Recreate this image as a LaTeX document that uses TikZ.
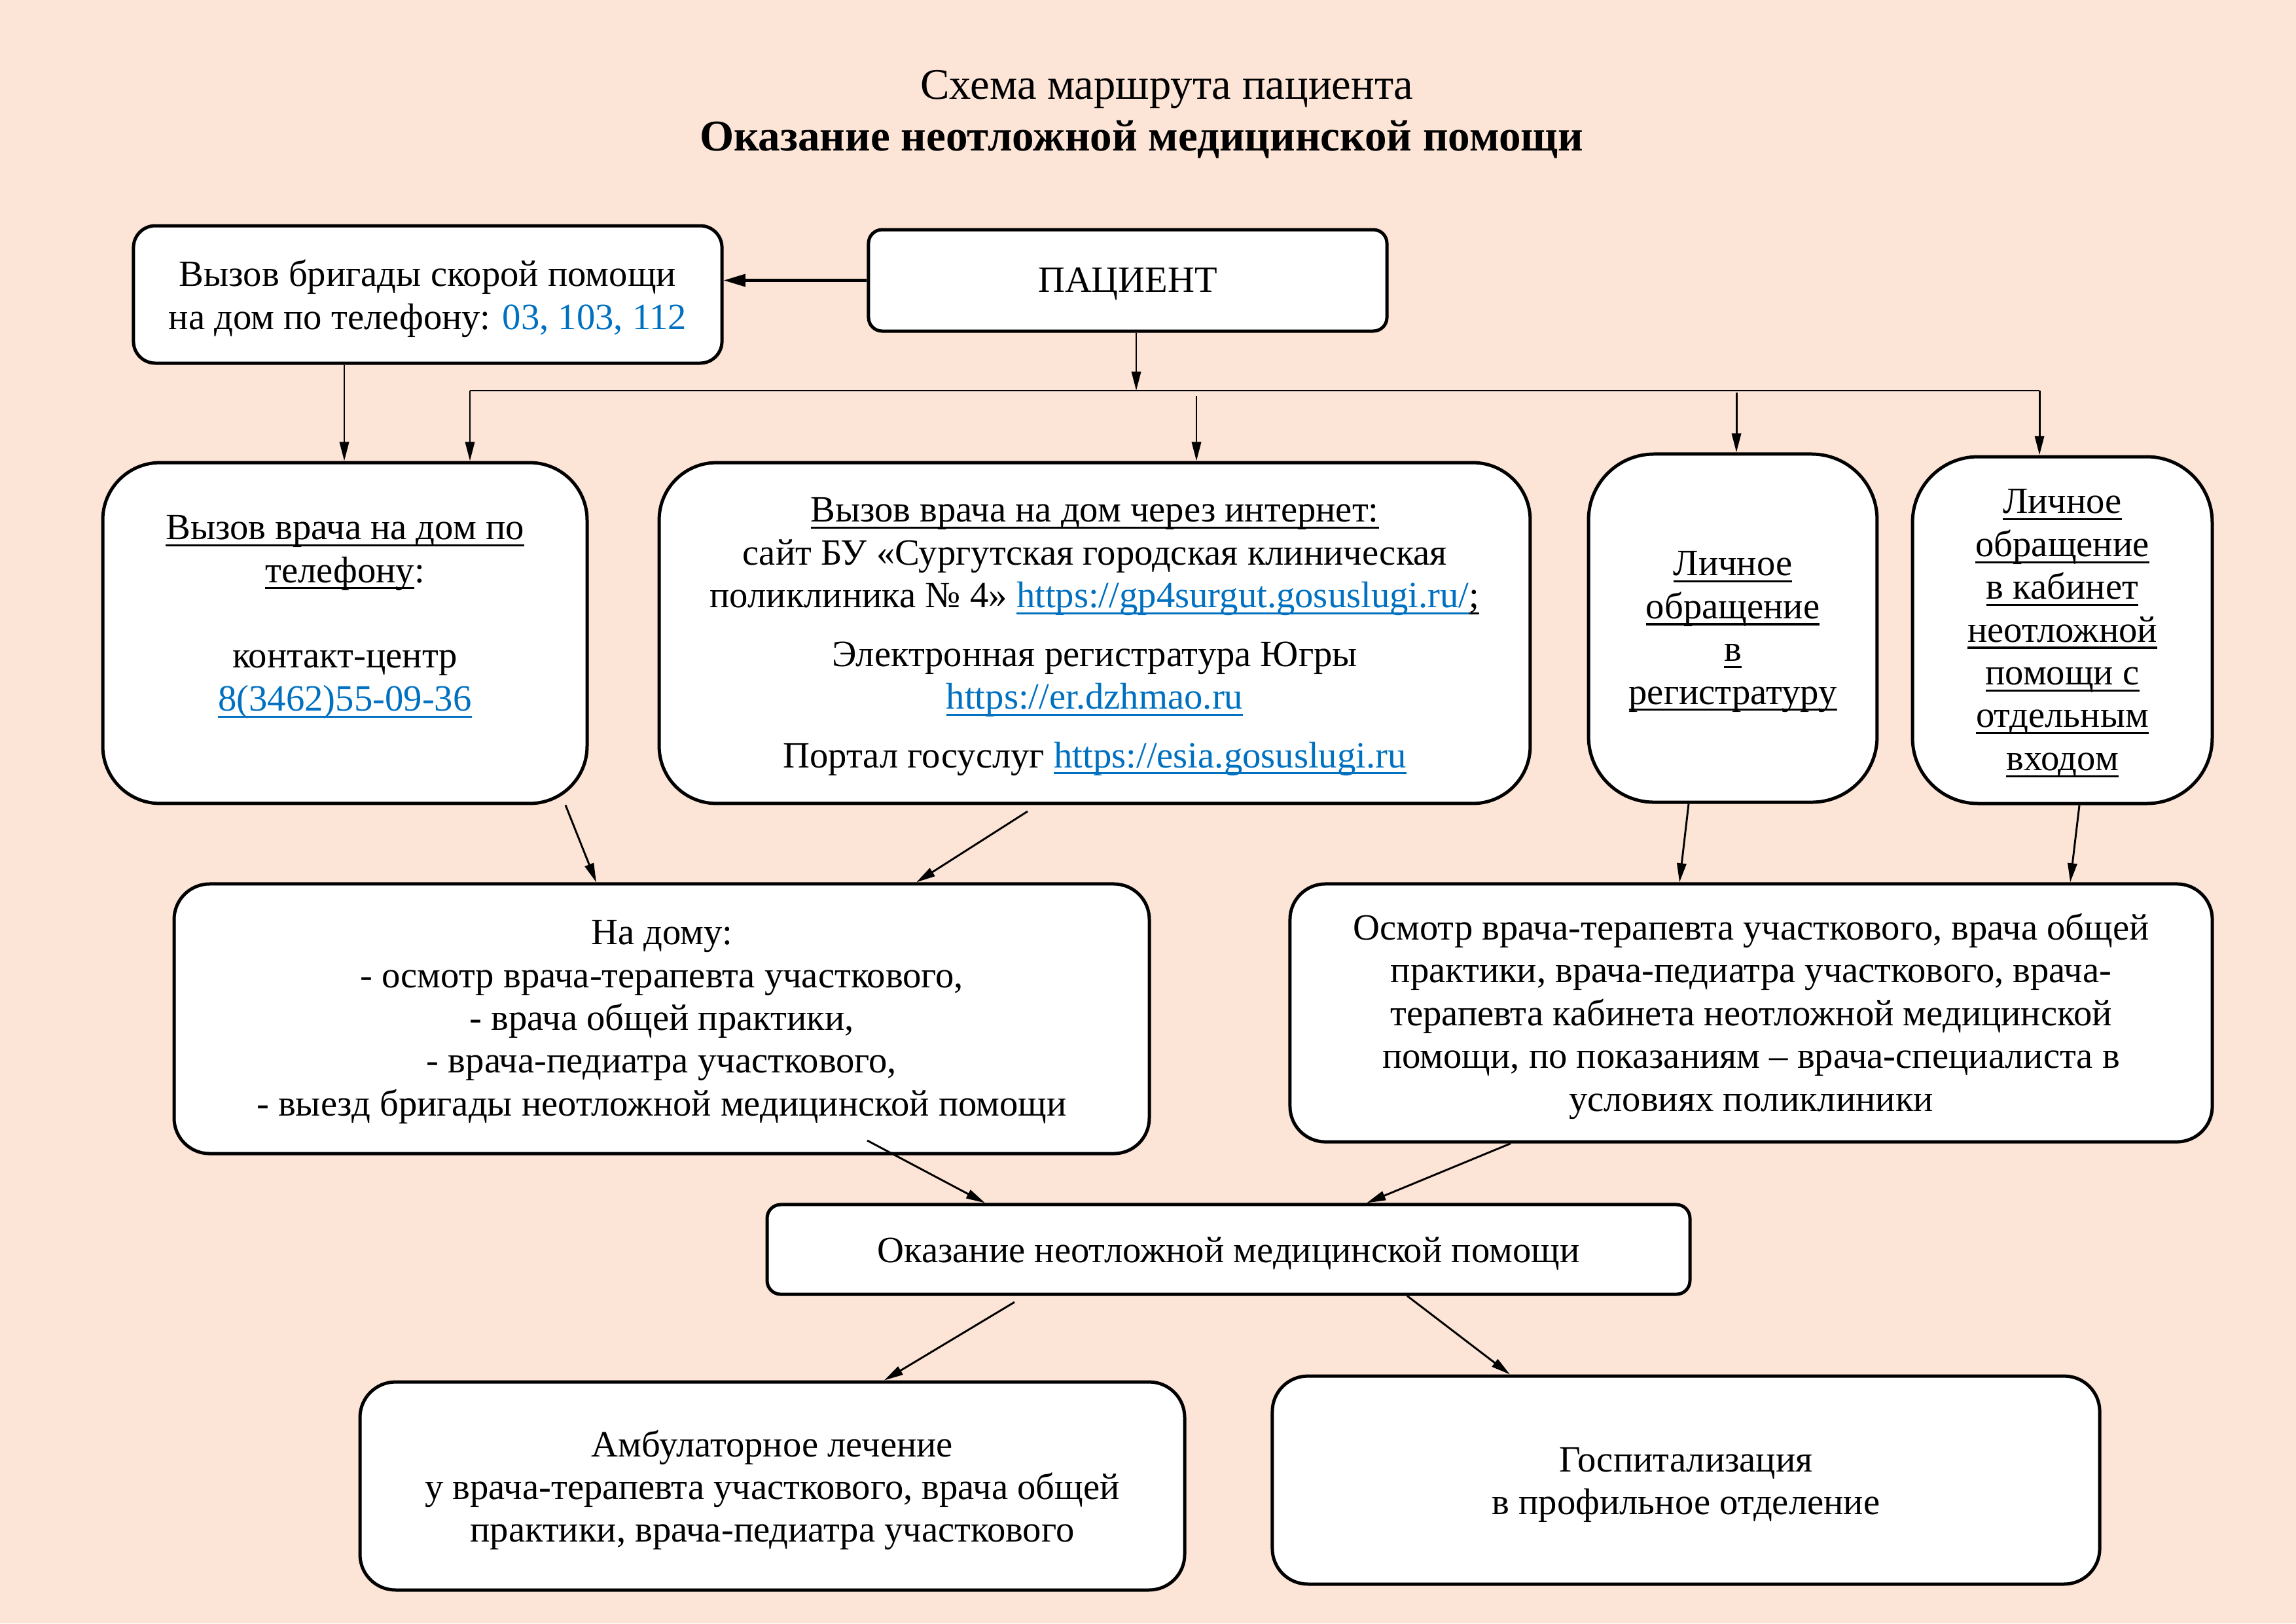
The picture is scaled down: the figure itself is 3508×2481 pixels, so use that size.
\documentclass[tikz,border=0pt]{standalone}
\usepackage{fontspec}
\setmainfont{Liberation Serif}
\usetikzlibrary{arrows.meta,calc}
\definecolor{bgpeach}{HTML}{FCE4D6}
\definecolor{linkblue}{HTML}{0070C0}
\newcommand{\myul}[1]{\setbox0\hbox{#1}\rlap{\rule[-2.5pt]{\wd0}{0.75pt}}\box0}
\begin{document}
\begin{tikzpicture}[x=0.24pt,y=-0.24pt,
  box/.style={draw, line width=1.2pt, fill=white, inner sep=0pt},
  txt/.style={align=center, inner sep=0pt, font=\fontsize{13.6}{15.7}\selectfont},
  conn/.style={line width=0.7pt},
  arr/.style={line width=0.7pt, -{Triangle[length=7pt,width=3.4pt]}},
  ttl/.style={font=\fontsize{16}{19}\selectfont}]
\useasboundingbox (0,0) rectangle (3508,2481);
\fill[bgpeach] (0,0) rectangle (3508,2481);

% title
\node[ttl] (t1) at (1783,137) {Схема маршрута пациента};
\node[ttl, font=\fontsize{16.1}{19}\selectfont\bfseries] (t2) at (1744,213) {Оказание неотложной медицинской помощи};

% boxes
\node[box, rounded corners=8pt, minimum width=215.8pt, minimum height=50.4pt] (b1) at (653.5,450) {};
\node[txt] (b1t) at ([yshift=-1.5pt]b1.center)
  {Вызов бригады скорой помощи\\ на дом по телефону: {\color{linkblue}03, 103, 112}};
\node[box, rounded corners=5pt, minimum width=190.1pt, minimum height=37.2pt] (b2) at (1723,428.5) {};
\node[txt] (b2t) at ([yshift=-1.2pt]b2.center) {ПАЦИЕНТ};
\node[box, rounded corners=21pt, minimum width=177.6pt, minimum height=125pt] (b3) at (527,967.5) {};
\node[txt] (b3t) at ([yshift=-0.5pt]b3.center)
  {\myul{Вызов врача на дом по}\\ \myul{телефону}:\\ \mbox{}\\ контакт-центр\\ {\color{linkblue}\myul{8(3462)55-09-36}}\\ \mbox{}};
\node[box, rounded corners=21pt, minimum width=319.4pt, minimum height=125pt] (b4) at (1672.5,967.5) {};
\node[txt] (b4t) at ([yshift=-1.3pt]b4.center)
  {\myul{Вызов врача на дом через интернет:}\\ сайт БУ «Сургутская городская клиническая\\ поликлиника № 4» {\color{linkblue}\myul{https://gp4surgut.gosuslugi.ru/}}\myul{;}\\[5.8pt] Электронная регистратура Югры\\ {\color{linkblue}\myul{https://er.dzhmao.ru}}\\[5.8pt] Портал госуслуг {\color{linkblue}\myul{https://esia.gosuslugi.ru}}};
\node[box, rounded corners=24pt, minimum width=105.8pt, minimum height=127.7pt] (b5) at (2647.5,960) {};
\node[txt] (b5t) at ([yshift=-1.3pt]b5.center)
  {\myul{Личное}\\ \myul{обращение}\\ \myul{в}\\ \myul{регистратуру}};
\node[box, rounded corners=24pt, minimum width=109.9pt, minimum height=127.2pt] (b6) at (3151,963) {};
\node[txt] (b6t) at ([yshift=-1.2pt]b6.center)
  {\myul{Личное}\\ \myul{обращение}\\ \myul{в кабинет}\\ \myul{неотложной}\\ \myul{помощи с}\\ \myul{отдельным}\\ \myul{входом}};
\node[box, rounded corners=13pt, minimum width=357.6pt, minimum height=98.9pt] (b7) at (1011,1557) {};
\node[txt] (b7t) at ([yshift=-1.2pt]b7.center)
  {На дому:\\ - осмотр врача-терапевта участкового,\\ - врача общей практики,\\ - врача-педиатра участкового,\\ - выезд бригады неотложной медицинской помощи};
\node[box, rounded corners=13pt, minimum width=338.2pt, minimum height=94.6pt] (b8) at (2675.5,1548) {};
\node[txt] (b8t) at ([yshift=-1.2pt]b8.center)
  {Осмотр врача-терапевта участкового, врача общей\\ практики, врача-педиатра участкового, врача-\\ терапевта кабинета неотложной медицинской\\ помощи, по показаниям – врача-специалиста в\\ условиях поликлиники};
\node[box, rounded corners=5pt, minimum width=338.4pt, minimum height=32.9pt] (b9) at (1877,1909.5) {};
\node[txt] (b9t) at ([yshift=-1.5pt]b9.center) {Оказание неотложной медицинской помощи};
\node[box, rounded corners=13pt, minimum width=302.4pt, minimum height=76.3pt] (b10) at (1180,2271) {};
\node[txt] (b10t) at ([yshift=-1.5pt]b10.center)
  {Амбулаторное лечение\\ у врача-терапевта участкового, врача общей\\ практики, врача-педиатра участкового};
\node[box, rounded corners=13pt, minimum width=303.4pt, minimum height=76.3pt] (b11) at (2576,2262) {};
\node[txt] (b11t) at ([yshift=-1.8pt]b11.center)
  {Госпитализация\\ в профильное отделение};

% connectors from patient
\draw[line width=1pt, -{Triangle[length=8pt,width=4.5pt]}] (b2.west) -- (b2.west -| b1.east);
\coordinate (bus) at (1736,597);
\coordinate (busL) at (718,597);
\coordinate (busR) at (3116,597);
\draw[arr] (b2.south -| bus) -- (bus);
\draw[conn] (busL) -- (busR);
\draw[arr] (busL) -- (busL |- b3.north);
\coordinate (d2) at (1828,605);
\draw[arr] (d2) -- (d2 |- b4.north);
\coordinate (d3) at (2653,600);
\draw[arr] (d3) -- (d3 |- b5.north);
\draw[arr] (busR) -- (busR |- b6.north);
\coordinate (a1) at (526,0);
\draw[arr] (a1 |- b1.south) -- (a1 |- b3.north);

% to second row
\coordinate (s1) at (864,0);   \coordinate (e1) at (911,0);
\draw[arr] (s1 |- b3.south) -- (e1 |- b7.north);
\coordinate (s2) at (1570,1240); \coordinate (e2) at (1400,0);
\draw[arr] (s2) -- (e2 |- b7.north);
\coordinate (s3) at (2580,0);  \coordinate (e3) at (2566,0);
\draw[arr] (s3 |- b5.south) -- (e3 |- b8.north);
\coordinate (s4) at (3177,0);  \coordinate (e4) at (3163,0);
\draw[arr] (s4 |- b6.south) -- (e4 |- b8.north);

% to b9
\coordinate (s5) at (1325,1743); \coordinate (e5) at (1505,0);
\draw[arr] (s5) -- (e5 |- b9.north);
\coordinate (s6) at (2308,0); \coordinate (e6) at (2088,0);
\draw[arr] (s6 |- b8.south) -- (e6 |- b9.north);

% from b9
\coordinate (s7) at (1550,1990); \coordinate (e7) at (1351,0);
\draw[arr] (s7) -- (e7 |- b10.north);
\coordinate (s8) at (2150,0); \coordinate (e8) at (2307,0);
\draw[arr] (s8 |- b9.south) -- (e8 |- b11.north);
\end{tikzpicture}
\end{document}
